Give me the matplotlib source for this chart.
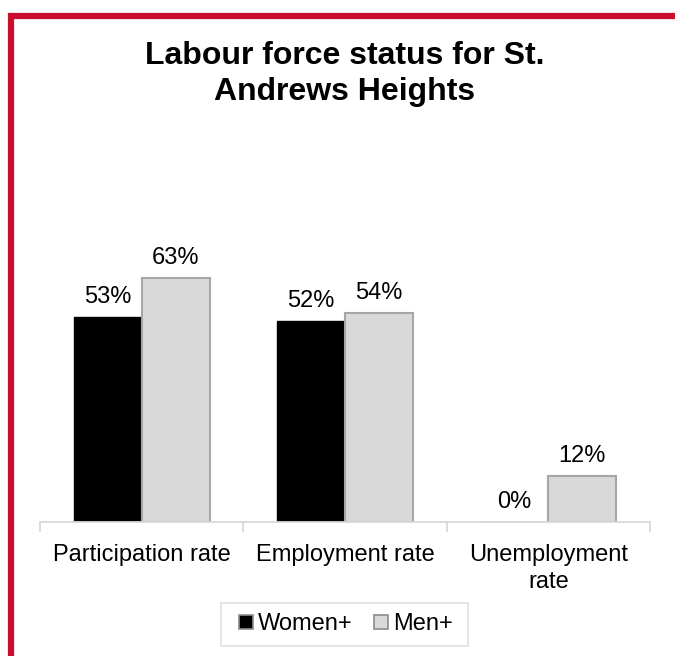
import matplotlib
matplotlib.use("Agg")
import matplotlib.pyplot as plt
import numpy as np
from matplotlib.patches import Rectangle

categories = ["Participation rate", "Employment rate", "Unemployment\nrate"]
series_names = ["Women+", "Men+"]
women = [53, 52, 0]
men = [63, 54, 12]

plt.rcParams['font.family'] = ['Liberation Sans', 'DejaVu Sans']

W, H = 675, 656
fig = plt.figure(figsize=(W / 100, H / 100), dpi=100)

# red frame
fig.patches.append(Rectangle((10.5 / W, -0.1), 1.2, 1 - 15.5 / H + 0.1,
                             transform=fig.transFigure, fill=False,
                             edgecolor='#c8102e', linewidth=4.5, zorder=0))

ax = fig.add_axes([40 / W, 1 - 522 / H, 610 / W, (522 - 251) / H])
x = np.arange(len(categories))
bw = 0.334
b1 = ax.bar(x - bw / 2, women, bw, color='black', edgecolor='black', linewidth=1, label=series_names[0])
b2 = ax.bar(x + bw / 2, men, bw, color='#d9d9d9', edgecolor='#a6a6a6', linewidth=1.5, label=series_names[1])

for i in range(len(categories)):
    ax.text(x[i] - bw / 2, women[i] + 2.3, f"{women[i]}%", ha='center', va='bottom', fontsize=17)
    ax.text(x[i] + bw / 2, men[i] + 2.3, f"{men[i]}%", ha='center', va='bottom', fontsize=17)

ax.set_xlim(-0.5, len(categories) - 0.5)
ax.set_ylim(0, 70)
ax.set_yticks([])
for s in ['left', 'right', 'top']:
    ax.spines[s].set_visible(False)
ax.spines['bottom'].set_color('#d9d9d9')
ax.spines['bottom'].set_linewidth(1.3)

ax.set_xticks(x)
ax.set_xticklabels(categories, fontsize=17, linespacing=1.3)
ax.tick_params(axis='x', which='major', length=0, pad=16)
ax.set_xticks(np.arange(len(categories) + 1) - 0.5, minor=True)
ax.tick_params(axis='x', which='minor', length=7, color='#d9d9d9', width=1.3)

fig.text(345 / W, 1 - 74 / H, "Labour force status for St.\nAndrews Heights", ha='center', va='center',
         fontsize=23, fontweight='bold', linespacing=1.25)

# legend frame
fig.patches.append(Rectangle((221 / W, 1 - 646 / H), 247 / W, 43 / H, transform=fig.transFigure,
                             fill=False, edgecolor='#e3e3e3', linewidth=1.3, zorder=1))
leg = fig.legend(handles=[b1, b2], labels=series_names, loc='center',
                 bbox_to_anchor=(346 / W, 1 - 624.5 / H), bbox_transform=fig.transFigure,
                 ncol=2, fontsize=17, frameon=False,
                 handlelength=0.57, handleheight=0.57, handletextpad=0.22, columnspacing=0.92,
                 borderpad=0.3)
leg.set_zorder(5)
for h in leg.legend_handles:
    h.set_edgecolor('#8c8c8c')
    h.set_linewidth(1.2)

fig.savefig("out.png", dpi=100)
